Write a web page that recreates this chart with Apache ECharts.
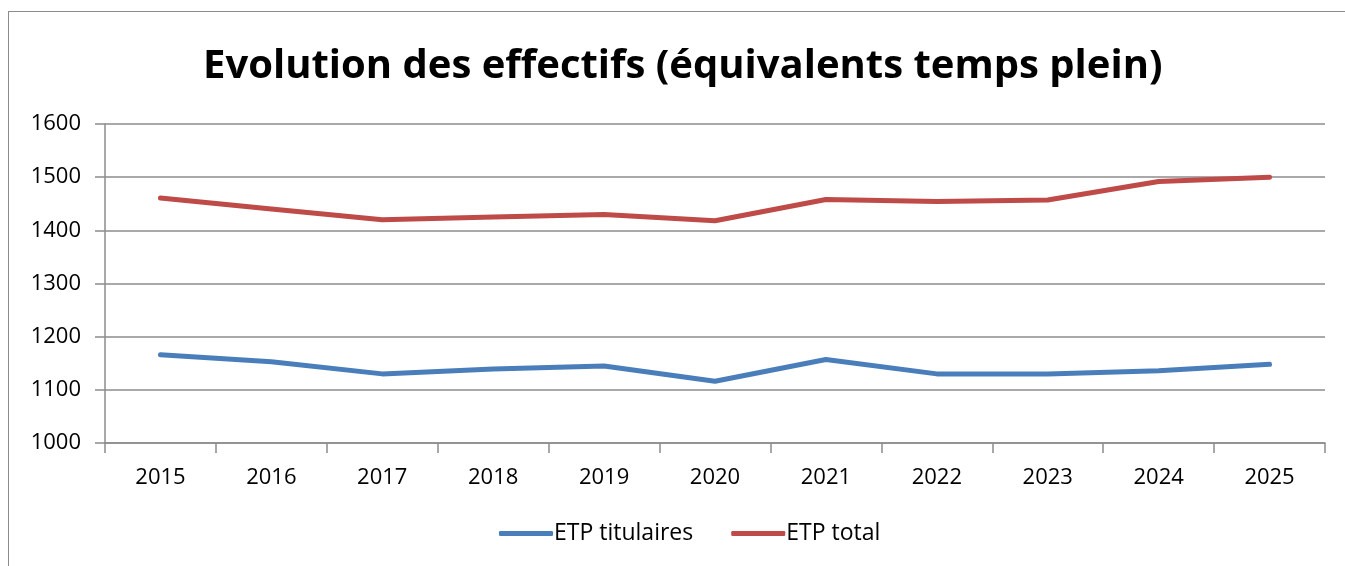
<!DOCTYPE html>
<html>
<head>
<meta charset="utf-8">
<script src="https://cdn.jsdelivr.net/npm/echarts@6/dist/echarts.min.js"></script>
<style>
  html, body { margin: 0; padding: 0; background: #fff; }
  #frame { position: absolute; left: 8px; top: 11px; width: 1400px; height: 600px; border: 1.5px solid #8c8c8c; box-sizing: border-box; }
  #chart { position: absolute; left: 0; top: 0; width: 1345px; height: 566px; }
</style>
</head>
<body>
<div id="frame"></div>
<div id="chart"></div>
<script>
const years = ["2015", "2016", "2017", "2018", "2019", "2020", "2021", "2022", "2023", "2024", "2025"];
const etpTitulaires = [1166, 1153, 1130, 1139, 1145, 1116, 1157, 1130, 1130, 1136, 1148];
const etpTotal = [1461, 1440, 1420, 1425, 1430, 1418, 1458, 1454, 1457, 1492, 1500];

const font = "'Open Sans', 'Noto Sans', sans-serif";
const gridColor = "#8c8c8c";

const chart = echarts.init(document.getElementById("chart"));

chart.setOption({
  animation: false,
  title: {
    text: "Evolution des effectifs (équivalents temps plein)",
    left: 198,
    top: 42,
    textStyle: { fontFamily: font, fontSize: 40, fontWeight: "bold", color: "#000" },
  },
  legend: {
    bottom: 16,
    left: 494,
    itemWidth: 54,
    itemHeight: 5,
    itemGap: 38,
    icon: "roundRect",
    textStyle: { fontFamily: font, fontSize: 23, color: "#000", padding: [0, 0, 0, -4] },
    data: ["ETP titulaires", "ETP total"],
  },
  grid: { left: 105, right: 20, top: 124, height: 319 },
  xAxis: {
    type: "category",
    data: years,
    boundaryGap: true,
    axisLine: { lineStyle: { color: gridColor, width: 1.5 } },
    axisTick: { show: true, length: 10, lineStyle: { color: gridColor, width: 1.5 } },
    axisLabel: { fontFamily: font, fontSize: 22, color: "#000", margin: 24 },
  },
  yAxis: {
    type: "value",
    min: 1000,
    max: 1600,
    interval: 100,
    axisLine: { show: true, lineStyle: { color: gridColor, width: 1.5 } },
    axisTick: { show: true, length: 10, lineStyle: { color: gridColor, width: 1.5 } },
    axisLabel: { fontFamily: font, fontSize: 22, color: "#000", margin: 24, formatter: (v) => String(v) },
    splitLine: { lineStyle: { color: gridColor, width: 1.5 } },
  },
  series: [
    {
      name: "ETP titulaires",
      type: "line",
      data: etpTitulaires,
      symbol: "none",
      lineStyle: { color: "#4a7ebb", width: 5, cap: "round", join: "round" },
      itemStyle: { color: "#4a7ebb" },
    },
    {
      name: "ETP total",
      type: "line",
      data: etpTotal,
      symbol: "none",
      lineStyle: { color: "#be4b48", width: 5, cap: "round", join: "round" },
      itemStyle: { color: "#be4b48" },
    },
  ],
});
</script>
</body>
</html>
